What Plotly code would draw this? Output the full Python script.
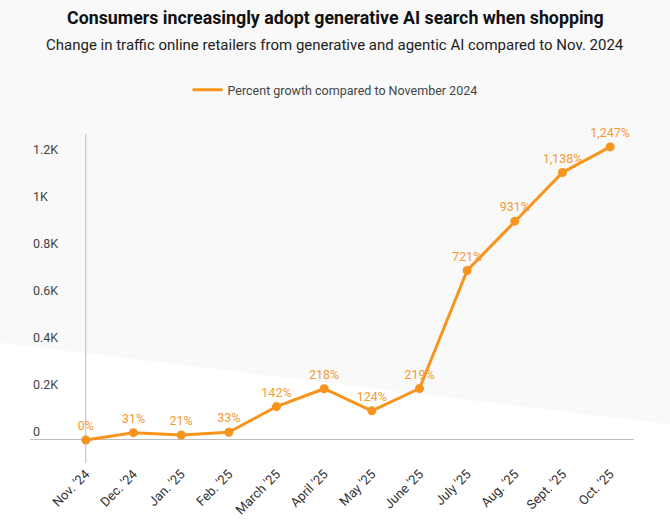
import plotly.graph_objects as go

months = ["Nov. '24", "Dec. '24", "Jan. '25", "Feb. '25", "March '25", "April '25",
          "May '25", "June '25", "July '25", "Aug. '25", "Sept. '25", "Oct. '25"]
growth = [0, 31, 21, 33, 142, 218, 124, 219, 721, 931, 1138, 1247]
growth_labels = [f"{v:,}%" for v in growth]
y_ticks = [0, 200, 400, 600, 800, 1000, 1200]
y_tick_labels = ["0", "0.2K", "0.4K", "0.6K", "0.8K", "1K", "1.2K"]

orange = "#F7941D"
series_name = "Percent growth compared to November 2024"

fig = go.Figure()
fig.add_trace(go.Scatter(
    x=months,
    y=growth,
    mode="lines+markers+text",
    name=series_name,
    showlegend=False,
    line=dict(color=orange, width=3),
    marker=dict(color=orange, size=9),
    text=growth_labels,
    textposition="top center",
    textfont=dict(color="#F39A33", size=12.5),
    cliponaxis=False,
))
# legend entry shows only the line
fig.add_trace(go.Scatter(
    x=[None], y=[None], mode="lines", name=series_name,
    line=dict(color=orange, width=3),
))

# white diagonal band behind the lower part of the chart
fig.add_shape(type="path", xref="paper", yref="paper",
              path="M -0.06 0.368 L 1.07 0.115 L 1.07 -0.3 L -0.06 -0.3 Z",
              fillcolor="white", line=dict(width=0), layer="below")
# vertical guide through the first month
fig.add_shape(type="line", xref="x", yref="paper", x0=months[0], x1=months[0],
              y0=0, y1=1, line=dict(color="#bdbdbd", width=1), layer="below")

fig.add_annotation(text="<b>Consumers increasingly adopt generative AI search when shopping</b>",
                   xref="paper", yref="paper", x=0.505, y=1.3526, showarrow=False,
                   xanchor="center", yanchor="middle",
                   font=dict(size=17.8, color="#111111"))
fig.add_annotation(text="Change in traffic online retailers from generative and agentic AI compared to Nov. 2024",
                   xref="paper", yref="paper", x=0.505, y=1.2705, showarrow=False,
                   xanchor="center", yanchor="middle",
                   font=dict(size=15, color="#222222"))

fig.update_layout(
    width=670, height=530,
    paper_bgcolor="#f9f9f9",
    plot_bgcolor="rgba(0,0,0,0)",
    font=dict(family="Roboto", color="#333333"),
    margin=dict(l=30, r=36, t=134, b=67),
    showlegend=True,
    legend=dict(orientation="h", x=0.505, xanchor="center", y=1.1337, yanchor="middle",
                font=dict(size=12.5, color="#444444"), bgcolor="rgba(0,0,0,0)",
                itemwidth=30),
    xaxis=dict(
        range=[-1.17, 11.5],
        tickangle=-45,
        showgrid=False,
        showline=False,
        zeroline=False,
        tickfont=dict(size=13, color="#333333"),
        ticks="",
    ),
    yaxis=dict(
        range=[-98, 1302],
        tickvals=y_ticks,
        ticktext=y_tick_labels,
        ticklabelposition="inside top",
        showgrid=False,
        showline=False,
        zeroline=True,
        zerolinecolor="#bdbdbd",
        zerolinewidth=1,
        tickfont=dict(size=12.5, color="#444444"),
    ),
)

fig.write_html("out.html", config={"displayModeBar": False},
               post_script="document.body.style.margin='0';")
